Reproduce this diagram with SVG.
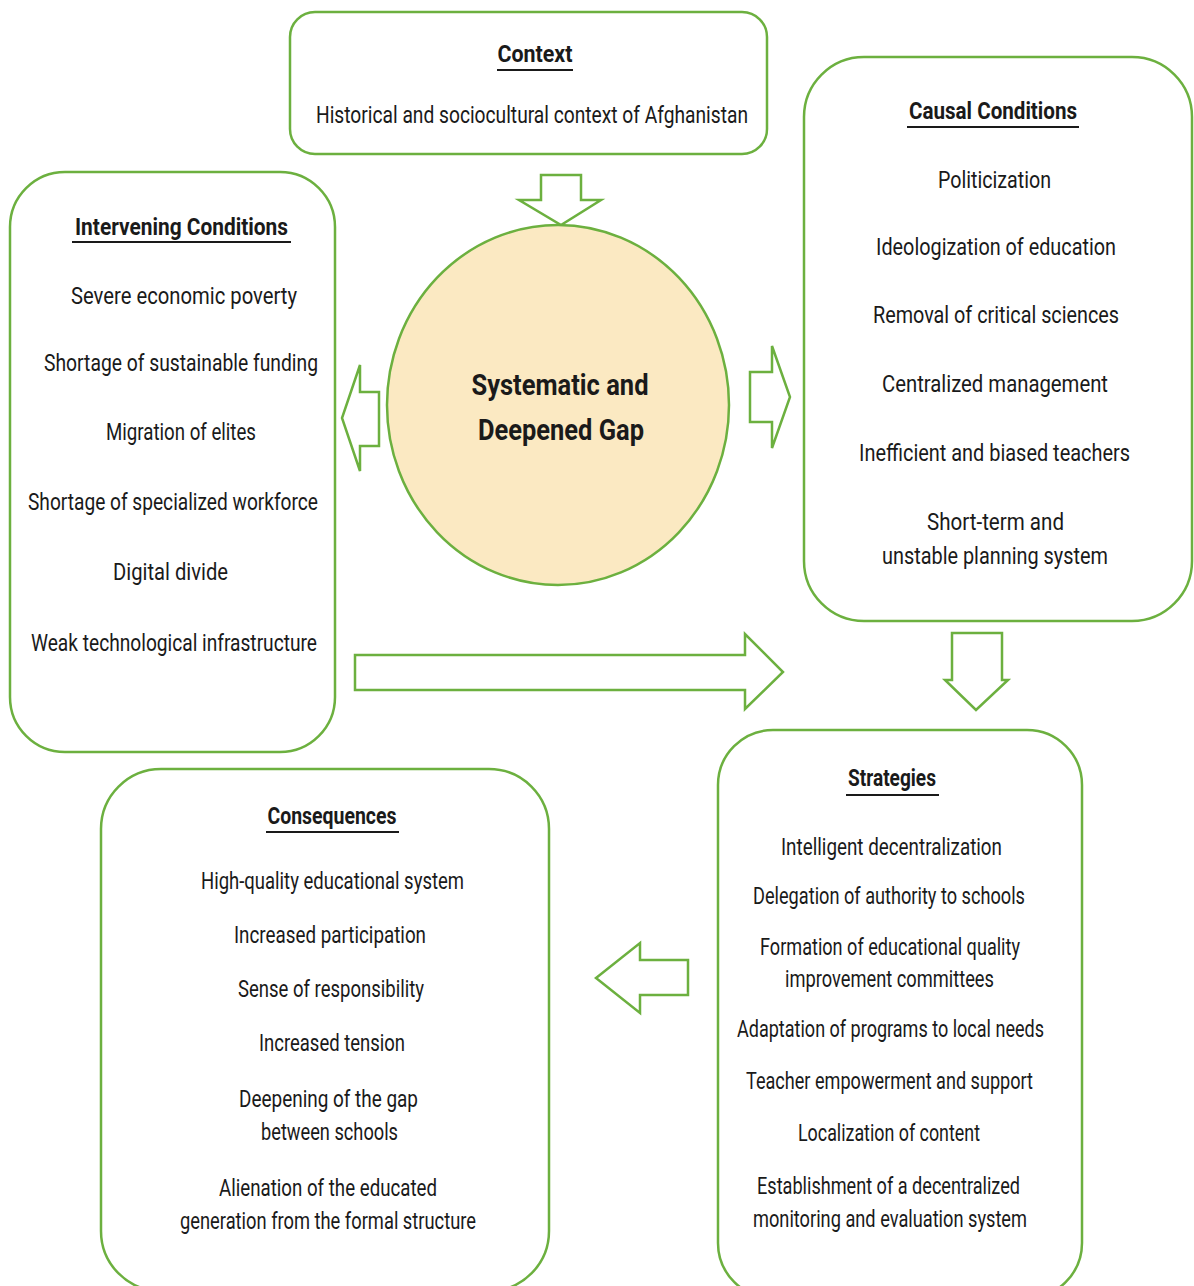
<svg xmlns="http://www.w3.org/2000/svg" width="1194" height="1286" viewBox="0 0 1194 1286">
<style>
.box{fill:#fff;stroke:#6cb03f;stroke-width:2.5}
.arr{fill:#fff;stroke:#6cb03f;stroke-width:2.5;stroke-linejoin:miter}
.t{font-family:Roboto,"Liberation Sans",sans-serif;font-size:23px;fill:#1a1a1a;text-anchor:middle}
.h{font-family:Roboto,"Liberation Sans",sans-serif;font-size:23px;font-weight:bold;fill:#1a1a1a;text-anchor:middle}
.c{font-family:Roboto,"Liberation Sans",sans-serif;font-size:30px;font-weight:bold;fill:#1a1a1a;text-anchor:middle}
.ul{stroke:#1a1a1a;stroke-width:2}
</style>
<rect width="1194" height="1286" fill="#fff"/>
<g id="connectors">
<polygon class="arr" points="541,175 581,175 581,200 601,200 561,225 519,200 541,200"/>
<polygon class="arr" points="379,392 360,392 360,365 342,418 360,471 360,446 379,446"/>
<polygon class="arr" points="750,372 772,372 772,346 790,397 772,448 772,422 750,422"/>
<polygon class="arr" points="355,655 745,655 745,634 783,672 745,709 745,690 355,690"/>
<polygon class="arr" points="952,633 1002,633 1002,680 1008,680 976,710 945,680 952,680"/>
<polygon class="arr" points="688,960 640,960 640,943 596,978 640,1013 640,995 688,995"/>
</g>
<g id="context">
<rect class="box" x="290" y="12" width="477" height="142" rx="25"/>
<text class="h" x="535" y="62" textLength="75" lengthAdjust="spacingAndGlyphs">Context</text>
<line class="ul" x1="497" y1="70" x2="573" y2="70"/>
<text class="t" x="532" y="123" textLength="432" lengthAdjust="spacingAndGlyphs">Historical and sociocultural context of Afghanistan</text>
</g>
<g id="gap">
<ellipse cx="558" cy="405" rx="171" ry="180" fill="#fbe9c2" stroke="#6cb03f" stroke-width="2.5"/>
<text class="c" x="560" y="395" textLength="177" lengthAdjust="spacingAndGlyphs">Systematic and</text>
<text class="c" x="561" y="440" textLength="166" lengthAdjust="spacingAndGlyphs">Deepened Gap</text>
</g>
<g id="intervening">
<rect class="box" x="10" y="172" width="325" height="580" rx="55"/>
<text class="h" x="181.5" y="235" textLength="213" lengthAdjust="spacingAndGlyphs">Intervening Conditions</text>
<line class="ul" x1="72" y1="242" x2="291" y2="242"/>
<text class="t" x="184" y="304" textLength="226" lengthAdjust="spacingAndGlyphs">Severe economic poverty</text>
<text class="t" x="181" y="371" textLength="274" lengthAdjust="spacingAndGlyphs">Shortage of sustainable funding</text>
<text class="t" x="181" y="440" textLength="150" lengthAdjust="spacingAndGlyphs">Migration of elites</text>
<text class="t" x="173" y="510" textLength="290" lengthAdjust="spacingAndGlyphs">Shortage of specialized workforce</text>
<text class="t" x="170.5" y="580" textLength="115" lengthAdjust="spacingAndGlyphs">Digital divide</text>
<text class="t" x="174" y="651" textLength="286" lengthAdjust="spacingAndGlyphs">Weak technological infrastructure</text>
</g>
<g id="causal">
<rect class="box" x="804" y="57" width="388" height="564" rx="60"/>
<text class="h" x="993" y="119" textLength="168" lengthAdjust="spacingAndGlyphs">Causal Conditions</text>
<line class="ul" x1="907" y1="127" x2="1079" y2="127"/>
<text class="t" x="994.5" y="188" textLength="113" lengthAdjust="spacingAndGlyphs">Politicization</text>
<text class="t" x="996" y="255" textLength="240" lengthAdjust="spacingAndGlyphs">Ideologization of education</text>
<text class="t" x="996" y="323" textLength="246" lengthAdjust="spacingAndGlyphs">Removal of critical sciences</text>
<text class="t" x="995" y="392" textLength="226" lengthAdjust="spacingAndGlyphs">Centralized management</text>
<text class="t" x="994.5" y="461" textLength="271" lengthAdjust="spacingAndGlyphs">Inefficient and biased teachers</text>
<text class="t" x="995.5" y="530" textLength="137" lengthAdjust="spacingAndGlyphs">Short-term and</text>
<text class="t" x="995" y="564" textLength="226" lengthAdjust="spacingAndGlyphs">unstable planning system</text>
</g>
<g id="strategies">
<rect class="box" x="718" y="730" width="364" height="568" rx="55"/>
<text class="h" x="892" y="786" textLength="88" lengthAdjust="spacingAndGlyphs">Strategies</text>
<line class="ul" x1="846" y1="795" x2="939" y2="795"/>
<text class="t" x="891.5" y="855" textLength="221" lengthAdjust="spacingAndGlyphs">Intelligent decentralization</text>
<text class="t" x="889" y="904" textLength="272" lengthAdjust="spacingAndGlyphs">Delegation of authority to schools</text>
<text class="t" x="890" y="955" textLength="260" lengthAdjust="spacingAndGlyphs">Formation of educational quality</text>
<text class="t" x="889.5" y="987" textLength="209" lengthAdjust="spacingAndGlyphs">improvement committees</text>
<text class="t" x="890.5" y="1037" textLength="307" lengthAdjust="spacingAndGlyphs">Adaptation of programs to local needs</text>
<text class="t" x="889.5" y="1089" textLength="287" lengthAdjust="spacingAndGlyphs">Teacher empowerment and support</text>
<text class="t" x="889" y="1141" textLength="182" lengthAdjust="spacingAndGlyphs">Localization of content</text>
<text class="t" x="888.5" y="1194" textLength="263" lengthAdjust="spacingAndGlyphs">Establishment of a decentralized</text>
<text class="t" x="890" y="1227" textLength="274" lengthAdjust="spacingAndGlyphs">monitoring and evaluation system</text>
</g>
<g id="consequences">
<rect class="box" x="101" y="769" width="448" height="522" rx="60"/>
<text class="h" x="332" y="824" textLength="129" lengthAdjust="spacingAndGlyphs">Consequences</text>
<line class="ul" x1="266" y1="832" x2="399" y2="832"/>
<text class="t" x="332.5" y="889" textLength="263" lengthAdjust="spacingAndGlyphs">High-quality educational system</text>
<text class="t" x="330" y="943" textLength="192" lengthAdjust="spacingAndGlyphs">Increased participation</text>
<text class="t" x="331" y="997" textLength="186" lengthAdjust="spacingAndGlyphs">Sense of responsibility</text>
<text class="t" x="332" y="1051" textLength="146" lengthAdjust="spacingAndGlyphs">Increased tension</text>
<text class="t" x="328.5" y="1107" textLength="179" lengthAdjust="spacingAndGlyphs">Deepening of the gap</text>
<text class="t" x="329.5" y="1140" textLength="137" lengthAdjust="spacingAndGlyphs">between schools</text>
<text class="t" x="328" y="1196" textLength="218" lengthAdjust="spacingAndGlyphs">Alienation of the educated</text>
<text class="t" x="328" y="1229" textLength="296" lengthAdjust="spacingAndGlyphs">generation from the formal structure</text>
</g>
</svg>
